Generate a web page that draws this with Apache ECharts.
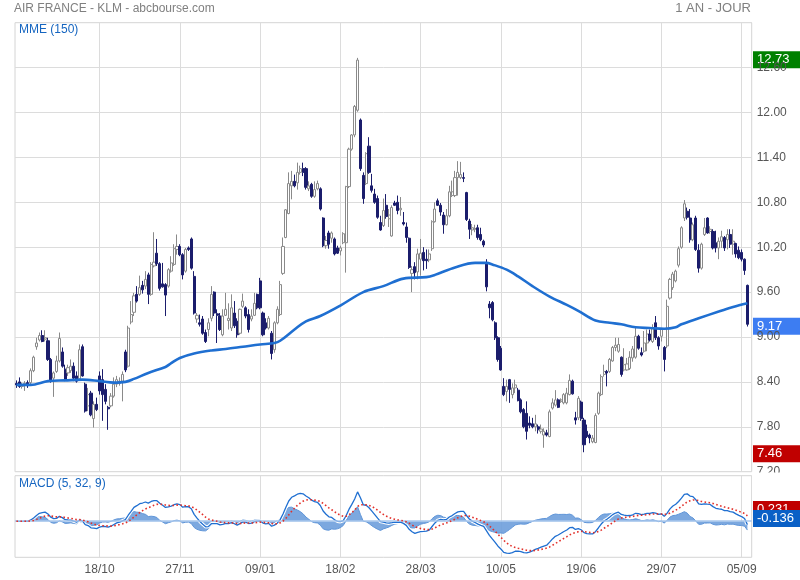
<!DOCTYPE html>
<html><head><meta charset="utf-8">
<script src="https://cdn.jsdelivr.net/npm/echarts@6/dist/echarts.min.js"></script>
<style>html,body{margin:0;padding:0;background:#fff}#c{width:800px;height:580px}</style>
</head><body><div id="c"></div>
<script>
// ---- data (one value per trading day) ----
const opens = [8.38,8.40,8.34,8.36,8.39,8.39,8.55,8.87,8.96,9.02,
8.97,8.95,8.70,8.45,8.54,8.68,8.80,8.57,8.52,8.55,
8.61,8.48,8.44,8.87,8.37,8.08,8.25,7.91,8.10,8.48,
8.43,8.30,8.06,8.08,8.21,8.37,8.38,8.41,8.80,8.61,
9.20,9.33,9.57,9.57,9.69,9.68,9.83,9.57,9.95,10.12,
9.98,9.71,9.70,9.68,9.88,9.97,10.17,10.21,10.10,9.88,
10.19,10.31,9.81,9.24,9.19,9.24,9.06,9.10,9.25,9.60,
9.31,9.28,9.03,9.29,9.22,9.12,9.32,9.21,9.05,9.41,
9.39,9.30,9.24,9.29,9.57,9.75,9.32,9.19,9.12,9.05,
8.83,9.19,9.30,9.85,10.33,10.65,11.02,11.08,11.06,11.20,
11.25,11.25,10.98,11.04,10.88,10.98,10.98,10.59,10.22,10.39,
10.32,10.31,10.19,10.15,10.26,10.26,11.01,11.51,11.70,12.03,
11.90,11.16,11.05,11.55,11.02,10.91,10.85,10.53,10.49,10.76,
10.58,10.35,10.79,10.80,10.70,10.53,10.47,10.32,9.85,9.94,
9.87,10.04,10.13,10.04,10.03,10.18,10.54,10.82,10.76,10.63,
10.50,10.62,10.89,10.89,11.13,11.13,11.13,10.93,10.55,10.43,
10.44,10.46,10.37,10.28,9.99,9.44,9.46,9.19,8.99,8.85,
8.34,8.27,8.43,8.23,8.32,8.29,8.16,8.03,7.98,7.85,
7.84,7.80,7.80,7.74,7.69,7.72,7.67,8.05,8.09,8.16,
8.14,8.12,8.12,8.23,8.41,7.92,7.92,8.13,7.89,7.74,
7.69,7.60,7.59,7.98,8.23,8.50,8.54,8.54,8.68,8.86,
8.81,8.73,8.56,8.56,8.58,8.72,8.73,9.01,8.79,8.81,
8.92,9.04,8.94,9.19,8.99,9.01,8.86,8.88,9.52,9.66,
9.75,9.96,10.20,10.59,10.68,10.59,10.30,10.59,10.16,9.92,
10.37,10.59,10.41,10.41,10.26,10.19,10.28,10.33,10.30,10.37,
10.24,10.25,10.16,10.13,10.04,9.69];
const closes = [8.36,8.34,8.36,8.38,8.35,8.55,8.73,8.92,9.02,8.94,
8.99,8.70,8.41,8.52,8.68,8.98,8.61,8.43,8.59,8.61,
8.45,8.41,8.83,8.48,8.01,8.23,7.96,8.10,8.03,8.28,
8.23,8.14,8.04,8.21,8.37,8.43,8.41,8.50,8.56,9.12,
9.30,9.55,9.48,9.66,9.63,9.77,9.57,9.97,10.00,9.98,
9.65,9.67,9.56,9.90,9.99,10.18,10.21,10.10,9.83,10.17,
10.17,9.92,9.32,9.29,9.17,9.05,8.94,9.19,9.57,9.32,
9.29,9.10,9.28,9.37,9.25,9.39,9.15,9.03,9.37,9.48,
9.28,9.10,9.28,9.45,9.39,9.39,9.03,9.12,9.25,8.78,
9.19,9.37,9.70,10.21,10.70,11.05,11.08,11.02,11.20,11.25,
11.20,11.00,11.02,10.88,10.97,11.05,10.71,10.22,10.29,10.24,
10.39,10.11,10.12,10.19,10.38,11.01,11.51,11.70,12.08,12.70,
11.25,10.85,11.45,11.20,10.96,10.80,10.60,10.43,10.69,10.61,
10.63,10.73,10.76,10.69,10.72,10.51,10.33,9.93,9.90,9.86,
10.11,10.12,10.02,10.02,10.11,10.54,10.71,10.76,10.67,10.50,
10.62,10.94,10.94,11.13,11.20,11.17,11.12,10.57,10.44,10.46,
10.45,10.33,10.30,10.23,9.67,9.39,9.23,8.99,8.70,8.56,
8.23,8.34,8.30,8.32,8.36,8.15,8.00,7.80,7.74,7.82,
7.80,7.84,7.76,7.77,7.74,7.69,8.00,8.12,8.16,8.06,
8.16,8.23,8.25,8.42,8.24,7.89,8.18,7.91,7.56,7.67,
7.65,7.65,7.95,8.25,8.47,8.54,8.52,8.70,8.86,8.89,
8.90,8.50,8.63,8.64,8.73,8.84,9.01,8.85,8.76,8.92,
9.04,8.96,9.12,8.99,8.88,9.10,8.70,9.41,9.77,9.84,
9.88,10.18,10.46,10.78,10.60,10.30,10.50,10.17,9.92,10.24,
10.46,10.39,10.44,10.19,10.19,10.28,10.34,10.19,10.37,10.24,
10.28,10.11,10.06,10.04,9.89,9.17];
const lows = [8.32,8.32,8.31,8.28,8.32,8.37,8.53,8.83,8.94,8.93,
8.94,8.68,8.39,8.20,8.52,8.66,8.59,8.41,8.48,8.52,
8.41,8.39,8.42,8.47,7.99,8.01,7.94,7.79,8.01,8.23,
7.88,8.10,7.76,8.06,8.19,8.33,8.35,8.14,8.53,8.59,
9.17,9.28,9.46,9.55,9.58,9.64,9.44,9.55,9.93,9.95,
9.62,9.66,9.28,9.66,9.86,9.95,10.10,10.08,9.77,9.86,
10.15,9.90,9.30,9.19,9.14,9.03,8.92,9.01,9.21,9.28,
8.92,9.08,9.01,9.28,9.10,9.08,9.12,8.99,9.03,9.39,
9.25,9.06,9.21,9.28,9.37,9.37,9.01,9.10,9.10,8.70,
8.79,9.17,9.28,9.83,10.32,10.64,10.84,11.00,10.97,11.17,
11.15,10.97,10.95,10.86,10.86,10.96,10.69,10.20,10.18,10.18,
10.26,10.09,10.11,10.09,10.24,9.86,10.99,11.49,11.67,12.01,
11.22,10.78,11.03,11.18,10.93,10.78,10.58,10.42,10.47,10.58,
10.47,10.34,10.75,10.64,10.62,10.49,10.26,9.91,9.60,9.77,
9.77,9.82,9.89,9.91,10.00,10.15,10.53,10.75,10.62,10.38,
10.49,10.60,10.87,10.87,10.89,11.11,11.07,10.55,10.31,10.36,
10.40,10.30,10.28,10.20,9.61,9.25,9.21,8.96,8.67,8.55,
8.21,8.14,8.12,8.18,8.25,8.14,7.98,7.78,7.63,7.78,
7.78,7.74,7.71,7.71,7.52,7.67,7.66,8.03,8.07,8.05,
8.12,8.10,8.10,8.22,8.23,7.83,7.89,7.88,7.46,7.65,
7.58,7.58,7.58,7.96,8.21,8.47,8.34,8.52,8.67,8.81,
8.79,8.47,8.54,8.55,8.56,8.67,8.71,8.83,8.74,8.79,
8.81,8.94,8.92,8.96,8.83,8.94,8.54,8.85,9.50,9.63,
9.73,9.93,10.18,10.55,10.57,10.26,10.28,10.15,9.86,9.90,
10.35,10.38,10.38,10.17,10.13,10.04,10.19,10.15,10.17,10.19,
10.10,10.06,10.04,10.01,9.83,9.14];
const highs = [8.42,8.46,8.39,8.41,8.42,8.58,8.75,8.99,9.06,9.09,
9.09,8.99,8.72,8.54,8.75,9.06,8.86,8.63,8.63,8.70,
8.66,8.54,8.90,8.90,8.39,8.32,8.28,8.14,8.19,8.54,
8.57,8.37,8.08,8.25,8.46,8.48,8.46,8.54,8.83,9.15,
9.48,9.59,9.68,9.82,9.75,9.88,9.86,10.00,10.40,10.31,
10.00,9.99,9.72,9.92,10.08,10.24,10.37,10.24,10.12,10.19,
10.21,10.33,9.88,9.32,9.30,9.28,9.10,9.25,9.68,9.61,
9.37,9.32,9.37,9.59,9.45,9.57,9.48,9.25,9.38,9.58,
9.41,9.37,9.37,9.59,9.58,9.79,9.34,9.25,9.28,9.08,
9.21,9.41,9.75,10.33,10.71,11.20,11.22,11.17,11.33,11.29,
11.33,11.27,11.08,11.06,11.08,11.09,11.00,10.60,10.35,10.42,
10.41,10.33,10.22,10.22,10.40,11.02,11.53,11.71,12.10,12.73,
11.92,11.20,11.47,11.67,11.18,10.98,10.89,10.62,10.85,10.91,
10.71,10.76,10.82,10.89,10.87,10.67,10.53,10.33,9.95,10.00,
10.18,10.31,10.20,10.17,10.17,10.56,10.80,10.85,10.79,10.67,
10.71,11.02,11.09,11.22,11.35,11.34,11.20,10.94,10.58,10.51,
10.50,10.50,10.46,10.30,10.04,9.48,9.48,9.21,9.01,8.88,
8.45,8.43,8.44,8.38,8.43,8.32,8.18,8.05,8.14,7.94,
7.92,7.96,7.83,7.83,7.78,7.76,8.03,8.18,8.29,8.18,
8.18,8.25,8.32,8.50,8.43,8.00,8.21,8.15,7.92,7.83,
7.71,7.69,7.98,8.27,8.50,8.63,8.56,8.72,8.88,8.99,
8.99,8.74,8.85,8.72,8.81,8.88,9.12,9.03,8.86,9.08,
9.10,9.10,9.17,9.28,9.01,9.12,8.88,9.50,9.79,9.87,
9.90,10.21,10.48,10.83,10.73,10.71,10.53,10.62,10.24,10.26,
10.59,10.60,10.48,10.44,10.42,10.33,10.42,10.35,10.44,10.44,
10.44,10.26,10.21,10.17,10.05,9.70];

// MME (150) at sample days
const mmeIdx = [0,5,11,17,23,29,34,38,41,46,52,54,57,62,68,73,79,85,90,92,97,101,106,113,121,128,135,143,146,153,160,164,166,171,175,180,186,192,196,202,207,211,216,221,226,230,232,238,245,250,255];
const mmeVal = [8.36,8.36,8.41,8.42,8.43,8.41,8.39,8.40,8.44,8.52,8.60,8.65,8.72,8.78,8.82,8.84,8.87,8.90,8.92,8.95,9.10,9.21,9.28,9.42,9.60,9.68,9.78,9.80,9.83,9.93,9.99,9.99,9.97,9.90,9.81,9.68,9.54,9.43,9.35,9.22,9.19,9.17,9.13,9.12,9.11,9.13,9.17,9.25,9.34,9.40,9.45];

// x-axis tick labels (every 28 trading days starting at day 29)
const tickLabels = ['18/10','27/11','09/01','18/02','28/03','10/05','19/06','29/07','05/09'];
const firstTick = 29, tickStep = 28, slotCount = 257;

// MACD parameters and the values printed in the tags
const macdFast = 5, macdSlow = 32, macdSig = 9;
const macdTagSignal = 0.231, macdTagMacd = -0.136;

// ---- derived series ----
const slots = Array.from({length: slotCount}, (_, i) => String(i));
const candles = opens.map((o, i) => [o, closes[i], lows[i], highs[i]]);
const mme = mmeIdx.map((d, k) => [d, mmeVal[k]]);
function ema(src, n) {
  const a = 2 / (n + 1); const out = []; let e = src[0];
  for (let i = 0; i < src.length; i++) { if (i > 0) e = e + a * (src[i] - e); out.push(e); }
  return out;
}
const eFast = ema(closes, macdFast), eSlow = ema(closes, macdSlow);
const macd = eFast.map((v, i) => v - eSlow[i]);
const signal = ema(macd, macdSig);
const hist = macd.map((v, i) => v - signal[i]);

const FONT = '"Liberation Sans", Arial, sans-serif';
const tickFn = (idx) => idx >= firstTick && (idx - firstTick) % tickStep === 0;
const GRID = '#dcdcdc';

const chart = echarts.init(document.getElementById('c'), null, {renderer: 'canvas'});
const option = {
  animation: false,
  textStyle: {fontFamily: FONT},
  title: [
    {text: 'AIR FRANCE - KLM - abcbourse.com', left: 14, top: 3, padding: 0, textStyle: {fontSize: 12, fontWeight: 'normal', color: '#808080', fontFamily: FONT}},
    {text: '1 AN - JOUR', right: 49, top: 2, padding: 0, textStyle: {fontSize: 13, fontWeight: 'normal', color: '#808080', fontFamily: FONT}}
  ],
  grid: [
    {left: 15, top: 22.7, width: 736.7, height: 449, show: true, borderColor: '#d4d4d4', borderWidth: 1, backgroundColor: 'transparent'},
    {left: 15, top: 475.7, width: 736.7, height: 81.6, show: true, borderColor: '#d4d4d4', borderWidth: 1, backgroundColor: 'transparent'}
  ],
  xAxis: [
    {type: 'category', gridIndex: 0, data: slots, boundaryGap: true,
     axisLine: {show: false}, axisTick: {show: false}, axisLabel: {show: false},
     splitLine: {show: true, interval: tickFn, alignWithLabel: true, lineStyle: {color: GRID, width: 1}}},
    {type: 'category', gridIndex: 1, data: slots, boundaryGap: true,
     axisLine: {show: false}, axisTick: {show: false},
     axisLabel: {show: true, interval: tickFn, color: '#555', fontSize: 12, margin: 6, fontFamily: FONT,
       formatter: (v, idx) => tickLabels[(idx - firstTick) / tickStep] || ''},
     splitLine: {show: true, interval: tickFn, alignWithLabel: true, lineStyle: {color: GRID, width: 1}}}
  ],
  yAxis: [
    {type: 'value', gridIndex: 0, position: 'right', min: 7.2, max: 13.2, interval: 0.6,
     axisLine: {show: false}, axisTick: {show: false},
     axisLabel: {showMaxLabel: false, color: '#555', fontSize: 12, margin: 5, fontFamily: FONT, formatter: (v) => v.toFixed(2)},
     splitLine: {show: true, lineStyle: {color: GRID, width: 1}}},
    {type: 'value', gridIndex: 1, position: 'right', min: -1.45, max: 1.83,
     axisLine: {show: false}, axisTick: {show: false}, axisLabel: {show: false}, splitLine: {show: false}}
  ],
  series: [
    {type: 'candlestick', xAxisIndex: 0, yAxisIndex: 0, data: candles, barWidth: 2.6,
     itemStyle: {color: '#ffffff', color0: '#1b1d6c', borderColor: '#8a8a8a', borderColor0: '#1b1d6c', borderWidth: 1}},
    {type: 'line', name: 'MME', xAxisIndex: 0, yAxisIndex: 0, data: mme, smooth: 0.35, showSymbol: false,
     lineStyle: {color: '#1f6fd1', width: 2.6}, z: 5},
    {type: 'line', xAxisIndex: 1, yAxisIndex: 1, data: hist, showSymbol: false,
     lineStyle: {color: '#5f95d8', width: 1}, areaStyle: {color: '#6e9fdc', opacity: 0.9},
     markLine: {silent: true, symbol: 'none', label: {show: false}, lineStyle: {color: '#a9c7ec', width: 1.5, type: 'solid'}, data: [{yAxis: 0}]}, z: 2},
    {type: 'line', xAxisIndex: 1, yAxisIndex: 1, data: macd, showSymbol: false,
     lineStyle: {color: '#ffffff', width: 3.4}, z: 3},
    {type: 'line', xAxisIndex: 1, yAxisIndex: 1, data: macd, showSymbol: false,
     lineStyle: {color: '#1f6fd1', width: 1.3}, z: 4},
    {type: 'line', xAxisIndex: 1, yAxisIndex: 1, data: signal, showSymbol: false,
     lineStyle: {color: '#e2302a', width: 1.6, type: [1.6, 2.4]}, z: 5}
  ]
};
chart.setOption(option);

function tag(y, color, text, z) {
  return {type: 'group', z: z, children: [
    {type: 'rect', shape: {x: 753, y: y - 8.5, width: 47, height: 17}, style: {fill: color}},
    {type: 'text', x: 757, y: y, style: {text: text, fill: '#fff', font: '13px ' + FONT, verticalAlign: 'middle', textVerticalAlign: 'middle'}}
  ]};
}
const maxHigh = Math.max(...highs), minLow = Math.min(...lows), lastClose = closes[closes.length - 1];
const py = (v) => chart.convertToPixel({yAxisIndex: 0}, v);
const my = (v) => chart.convertToPixel({yAxisIndex: 1}, v);
chart.setOption({graphic: [
  {type: 'rect', z: 10, shape: {x: 752, y: 472.5, width: 48, height: 28}, style: {fill: '#fff'}},
  {type: 'text', z: 12, x: 19, y: 30, style: {text: 'MME (150)', fill: '#1565c0', font: '12px ' + FONT, verticalAlign: 'middle', textVerticalAlign: 'middle'}},
  {type: 'text', z: 12, x: 19, y: 484, style: {text: 'MACD (5, 32, 9)', fill: '#1565c0', font: '12px ' + FONT, verticalAlign: 'middle', textVerticalAlign: 'middle'}},
  tag(py(maxHigh) + 2, '#008000', maxHigh.toFixed(2), 20),
  tag(py(lastClose) + 2, '#3d7df2', lastClose.toFixed(2), 20),
  tag(py(minLow) + 1.5, '#c00000', minLow.toFixed(2), 20),
  tag(my(macdTagSignal) - 6, '#c00000', macdTagSignal.toFixed(3), 21),
  tag(my(macdTagMacd) - 6, '#0a60c6', macdTagMacd.toFixed(3), 22)
]});
</script>
</body></html>
